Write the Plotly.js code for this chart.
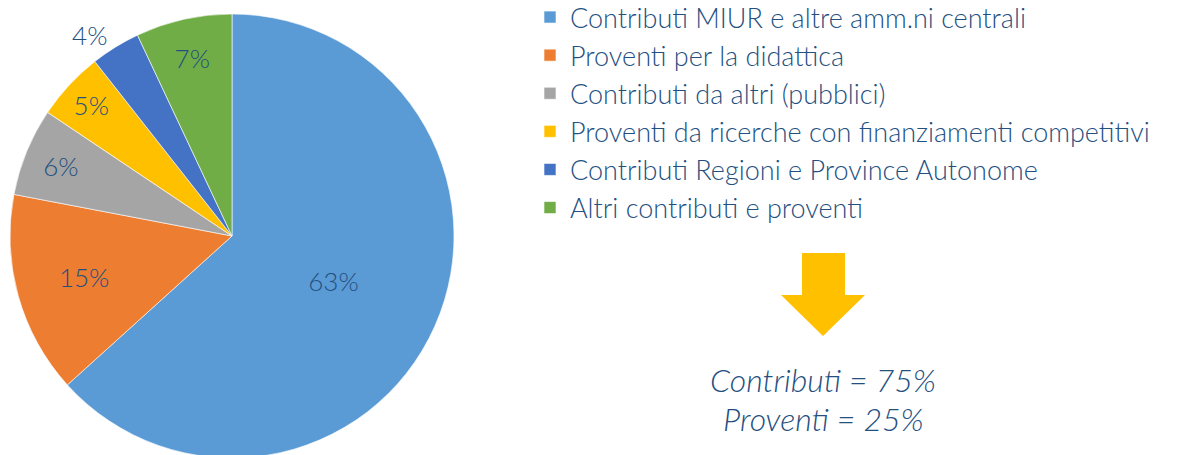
<!DOCTYPE html>
<html>
<head>
<meta charset="utf-8">
<script src="https://cdn.plot.ly/plotly-3.0.1.min.js"></script>
<style>
html, body { margin:0; padding:0; overflow:hidden; background:#fff; }
#chart { width:1189px; height:500px; margin-top:-30px; }
</style>
</head>
<body>
<div id="chart"></div>
<script>
// ---- data ----
const categories = [
  "Contributi MIUR e altre amm.ni centrali",
  "Proventi per la didattica",
  "Contributi da altri (pubblici)",
  "Proventi da ricerche con finanziamenti competitivi",
  "Contributi Regioni e Province Autonome",
  "Altri contributi e proventi"
];
const shares = [63.3, 14.7, 6.4, 5.0, 3.6, 7.0];
const sliceColors = ["#5B9BD5", "#ED7D31", "#A5A5A5", "#FFC000", "#4472C4", "#70AD47"];
const labelPositions = ["inside", "inside", "inside", "inside", "outside", "inside"];
const summaryLines = ["Contributi = 75%", "Proventi = 25%"];

// ---- layout helpers (page pixel -> paper fraction; chart is shifted up by OFF px) ----
const W = 1189, H = 500, OFF = 30;
const px = x => x / W;
const py = y => 1 - (y + OFF) / H;
const textColor = "#24507F";
const fontFam = "Lato, 'Open Sans', sans-serif";

const arrowPath = [
  [802, 253], [845, 253], [845, 295], [865, 295], [823, 336], [781, 295], [802, 295]
].map((p, i) => (i === 0 ? "M" : "L") + px(p[0]).toFixed(5) + "," + py(p[1]).toFixed(5)).join(" ") + " Z";

const labelFont = { family: fontFam, size: 26, color: textColor, weight: 300 };

const data = [{
  type: "pie",
  labels: categories,
  values: shares,
  sort: false,
  direction: "clockwise",
  rotation: 0,
  marker: { colors: sliceColors, line: { color: "#ffffff", width: 0.6 } },
  textinfo: "percent",
  texttemplate: "%{percent:.0%}",
  textposition: labelPositions,
  insidetextorientation: "horizontal",
  textfont: labelFont,
  outsidetextfont: labelFont,
  insidetextfont: labelFont,
  hoverinfo: "label+percent",
  domain: { x: [px(10), px(454)], y: [py(458), py(14)] }
}];

const layout = {
  width: W,
  height: H,
  margin: { l: 0, r: 0, t: 0, b: 0 },
  paper_bgcolor: "#ffffff",
  showlegend: true,
  legend: {
    x: px(530), xanchor: "left",
    y: py(-7), yanchor: "top",
    font: { family: fontFam, size: 27, color: textColor, weight: 300 },
    bgcolor: "rgba(0,0,0,0)",
    itemclick: false
  },
  shapes: [{
    type: "path", xref: "paper", yref: "paper",
    path: arrowPath,
    fillcolor: "#FFC000", line: { width: 0 }
  }],
  annotations: summaryLines.map((t, i) => ({
    text: t, xref: "paper", yref: "paper",
    x: px(823), y: py(379 + i * 39), xanchor: "center", yanchor: "middle",
    showarrow: false,
    font: { family: fontFam, size: 32, color: textColor, style: "italic", weight: 300 }
  }))
};

Plotly.newPlot("chart", data, layout, { displayModeBar: false, staticPlot: true });
</script>
</body>
</html>
